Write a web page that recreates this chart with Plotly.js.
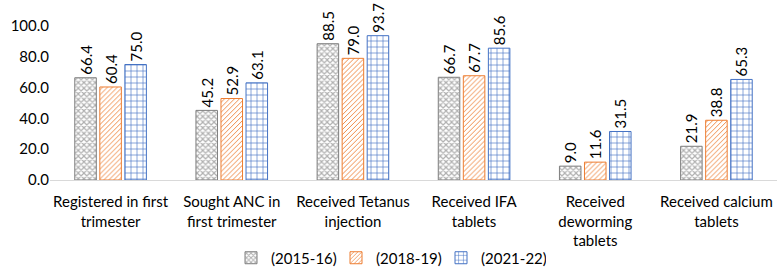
<!DOCTYPE html>
<html>
<head>
<meta charset="utf-8">
<script src="https://cdn.plot.ly/plotly-3.0.1.min.js"></script>
<style>html,body{margin:0;padding:0;background:#fff;}#chart{width:777px;height:271px;}</style>
</head>
<body>
<div id="chart"></div>
<script>
const categories = [
  "Registered in first<br>trimester",
  "Sought ANC in<br>first trimester",
  "Received Tetanus<br>injection",
  "Received IFA<br>tablets",
  "Received<br>deworming<br>tablets",
  "Received calcium<br>tablets"
];
const seriesNames = ["(2015-16)", "(2018-19)", "(2021-22)"];
const values2015 = [66.4, 45.2, 88.5, 66.7, 9.0, 21.9];
const values2018 = [60.4, 52.9, 79.0, 67.7, 11.6, 38.8];
const values2021 = [75.0, 63.1, 93.7, 85.6, 31.5, 65.3];
const yTicks = [0, 20, 40, 60, 80, 100];

const FONT = "Lato, 'Open Sans', sans-serif";
const styles = [
  {line: "#7f7f7f", fg: "#b0b0b0", shape: "x", size: 4, sol: 0.5},
  {line: "#ED7D31", fg: "#ED7D31", shape: "/", size: 3.5, sol: 0.25},
  {line: "#4472C4", fg: "#4472C4", shape: "+", size: 6, sol: 0.2}
];
const allVals = [values2015, values2018, values2021];
const traces = allVals.map((vals, i) => ({
  type: "bar",
  name: seriesNames[i],
  x: categories,
  y: vals,
  text: vals.map(v => v.toFixed(1)),
  textposition: "outside",
  textangle: -90,
  constraintext: "none",
  cliponaxis: false,
  textfont: {family: FONT, size: 15, color: "#000"},
  marker: {
    color: "#ffffff",
    line: {color: styles[i].line, width: 1},
    pattern: {shape: styles[i].shape, fgcolor: styles[i].fg, bgcolor: "#ffffff", size: styles[i].size, solidity: styles[i].sol, fillmode: "replace"}
  },
  hoverinfo: "none"
}));

const layout = {
  width: 777, height: 271,
  margin: {l: 50, r: 0, t: 26, b: 91, autoexpand: false},
  paper_bgcolor: "#fff", plot_bgcolor: "#fff",
  barmode: "group",
  bargap: 0.38,
  bargroupgap: 0.14,
  showlegend: true,
  legend: {orientation: "h", x: 0.5, xanchor: "center", xref: "container",
           y: 0.048, yanchor: "middle", yref: "container", bgcolor: "rgba(0,0,0,0)",
           font: {family: FONT, size: 15, color: "#000"}, itemwidth: 30, entrywidth: 60, tracegroupgap: 0},
  xaxis: {
    showline: true, linecolor: "#d9d9d9", linewidth: 1, automargin: false,
    ticks: "", ticklabelstandoff: 8, tickfont: {family: FONT, size: 15, color: "#000"},
    showgrid: false, fixedrange: true
  },
  yaxis: {
    range: [0, 100], tickvals: yTicks, ticktext: yTicks.map(v => v.toFixed(1)),
    showgrid: false, zeroline: false, showline: false, ticks: "", automargin: false,
    tickfont: {family: FONT, size: 15, color: "#000"}, fixedrange: true
  },
  font: {family: FONT, color: "#000"}
};
Plotly.newPlot("chart", traces, layout, {displayModeBar: false, staticPlot: true});
</script>
</body>
</html>
